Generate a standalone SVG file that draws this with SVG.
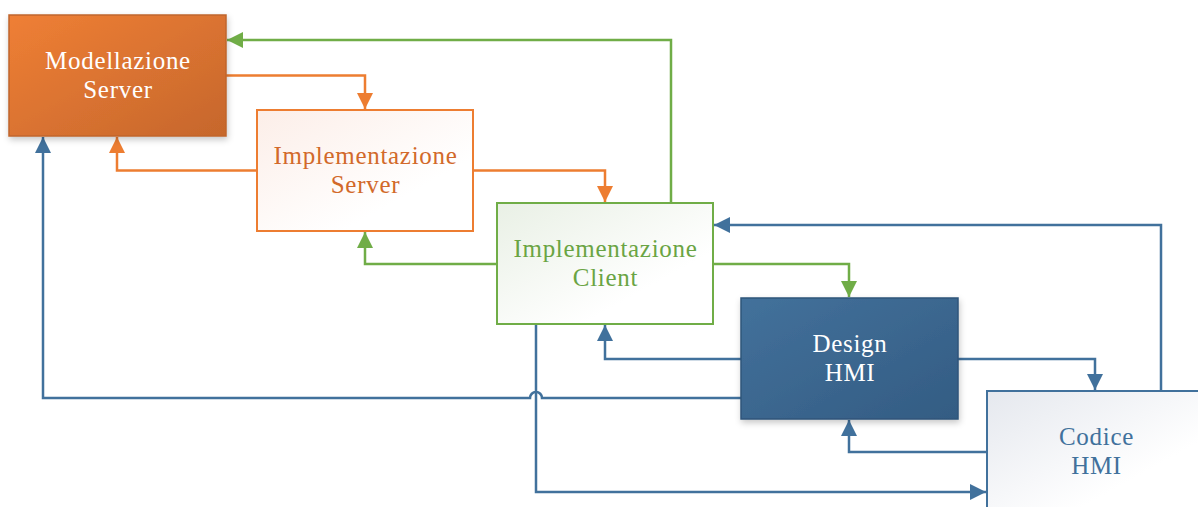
<svg xmlns="http://www.w3.org/2000/svg" width="1198" height="507" viewBox="0 0 1198 507">
  <defs>
    <linearGradient id="gOrange" x1="0" y1="0" x2="1" y2="1">
      <stop offset="0" stop-color="#EF7F35"/>
      <stop offset="1" stop-color="#C6672C"/>
    </linearGradient>
    <linearGradient id="gBlue" x1="0" y1="0" x2="1" y2="1">
      <stop offset="0" stop-color="#43719B"/>
      <stop offset="1" stop-color="#335C83"/>
    </linearGradient>
    <linearGradient id="gOrangeLight" x1="0" y1="0" x2="1" y2="1">
      <stop offset="0" stop-color="#FCEEE8"/>
      <stop offset="0.7" stop-color="#FFFFFF"/>
    </linearGradient>
    <linearGradient id="gGreenLight" x1="0" y1="0" x2="1" y2="1">
      <stop offset="0" stop-color="#E9F0E5"/>
      <stop offset="0.7" stop-color="#FFFFFF"/>
    </linearGradient>
    <linearGradient id="gGrayLight" x1="0" y1="0" x2="1" y2="1">
      <stop offset="0" stop-color="#E5E8EE"/>
      <stop offset="0.7" stop-color="#FFFFFF"/>
    </linearGradient>
    <filter id="shadow" x="-10%" y="-10%" width="125%" height="130%">
      <feDropShadow dx="1" dy="3" stdDeviation="3" flood-color="#000" flood-opacity="0.22"/>
    </filter>
    <marker id="aOrange" viewBox="0 0 12 12" refX="12" refY="6" markerWidth="6.4" markerHeight="6.4" orient="auto" markerUnits="strokeWidth">
      <path d="M0,0 L12,6 L0,12 Z" fill="#ED7D31"/>
    </marker>
    <marker id="aGreen" viewBox="0 0 12 12" refX="12" refY="6" markerWidth="6.4" markerHeight="6.4" orient="auto" markerUnits="strokeWidth">
      <path d="M0,0 L12,6 L0,12 Z" fill="#70AD47"/>
    </marker>
    <marker id="aBlue" viewBox="0 0 12 12" refX="12" refY="6" markerWidth="6.4" markerHeight="6.4" orient="auto" markerUnits="strokeWidth">
      <path d="M0,0 L12,6 L0,12 Z" fill="#41719C"/>
    </marker>
  </defs>
  <style>
    text { font-family: "Liberation Serif", "Times New Roman", serif; font-size: 25px; letter-spacing: 0.7px; text-anchor: middle; }
    .conn { fill: none; stroke-width: 2.5; stroke-linejoin: miter; }
    .orange { stroke: #ED7D31; marker-end: url(#aOrange); }
    .green { stroke: #70AD47; marker-end: url(#aGreen); }
    .blue { stroke: #41719C; marker-end: url(#aBlue); }
  </style>

  <rect width="1198" height="507" fill="#FFFFFF"/>

  <!-- connectors -->
  <g id="connectors">
    <path class="conn green" d="M671,203 V40 H227"/>
    <path class="conn orange" d="M226,75.5 H365 V109"/>
    <path class="conn orange" d="M257,170.5 H117 V137"/>
    <path class="conn orange" d="M473,170.5 H605 V202"/>
    <path class="conn green" d="M497,264 H365 V232"/>
    <path class="conn green" d="M713,264 H849 V297"/>
    <path class="conn blue" d="M1161,391 V225 H714"/>
    <path class="conn blue" d="M741,359 H605 V325"/>
    <path class="conn blue" d="M741,398 H542 A6,6 0 0 0 530,398 H43 V137"/>
    <path class="conn blue" d="M958,359 H1095 V390"/>
    <path class="conn blue" d="M987,452 H849 V420"/>
    <path class="conn blue" d="M536,324 V492 H986"/>
  </g>

  <!-- nodes -->
  <g id="modellazione-server">
    <rect x="9" y="15" width="217" height="121" fill="url(#gOrange)" stroke="#C0652C" stroke-width="1.5" filter="url(#shadow)"/>
    <text x="118" y="69" fill="#FFFFFF">Modellazione</text>
    <text x="118" y="98" fill="#FFFFFF">Server</text>
  </g>

  <g id="implementazione-server">
    <rect x="257" y="110" width="216" height="121" fill="url(#gOrangeLight)" stroke="#ED7D31" stroke-width="2"/>
    <text x="365.5" y="164" fill="#D2692A">Implementazione</text>
    <text x="365.5" y="193" fill="#D2692A">Server</text>
  </g>

  <g id="implementazione-client">
    <rect x="497" y="203" width="216" height="121" fill="url(#gGreenLight)" stroke="#70AD47" stroke-width="2"/>
    <text x="605.5" y="257" fill="#6AA443">Implementazione</text>
    <text x="605.5" y="286" fill="#6AA443">Client</text>
  </g>

  <g id="design-hmi">
    <rect x="741" y="298" width="217" height="121" fill="url(#gBlue)" stroke="#2F557A" stroke-width="1.5" filter="url(#shadow)"/>
    <text x="850" y="352" fill="#FFFFFF">Design</text>
    <text x="850" y="381" fill="#FFFFFF">HMI</text>
  </g>

  <g id="codice-hmi">
    <rect x="987" y="391" width="217" height="121" fill="url(#gGrayLight)" stroke="#41719C" stroke-width="2"/>
    <text x="1096.5" y="445" fill="#41719C">Codice</text>
    <text x="1096.5" y="474" fill="#41719C">HMI</text>
  </g>
</svg>
